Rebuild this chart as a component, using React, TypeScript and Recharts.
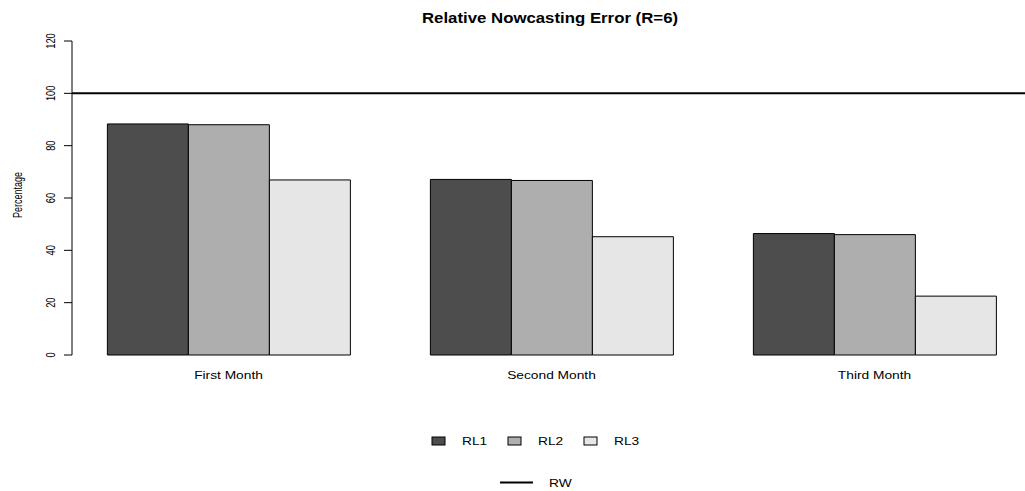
import React from 'react';
import { BarChart, Bar, XAxis, YAxis, ReferenceLine } from 'recharts';

const months = ['First Month', 'Second Month', 'Third Month'];
const rl1 = [88.3, 67.1, 46.4];
const rl2 = [88.0, 66.7, 46.0];
const rl3 = [66.9, 45.2, 22.5];
const yTicks = [0, 20, 40, 60, 80, 100, 120];
const rwLevel = 100;

const seriesNames = ['RL1', 'RL2', 'RL3'];
const seriesColors = ['#4d4d4d', '#aeaeae', '#e6e6e6'];

const FONT = '"Liberation Sans", Arial, sans-serif';

const data = months.map((m, i) => ({ month: m, RL1: rl1[i], RL2: rl2[i], RL3: rl3[i] }));

// rotated y tick labels, like R's default las=0
const YTick = (props: any) => {
  const { x, y, payload } = props;
  return (
    <g transform={`translate(${x - 7},${y}) scale(1.15,0.85)`}>
      <text transform="rotate(-90)" textAnchor="middle" fontSize={11} fontFamily={FONT} fill="#000">
        {payload.value}
      </text>
    </g>
  );
};

const XTick = (props: any) => {
  const { x, y, payload } = props;
  return (
    <g transform={`translate(${x},${y + 16}) scale(1.25,1)`}>
      <text textAnchor="middle" fontSize={11} fontFamily={FONT} fill="#000">
        {payload.value}
      </text>
    </g>
  );
};

const App: React.FC = () => {
  return (
    <div style={{ position: 'absolute', left: 0, top: 0, width: 1025, height: 491, overflow: 'hidden', background: '#fff' }}>
      <BarChart
        width={1036}
        height={491}
        data={data}
        margin={{ top: 41, right: 0, left: 0, bottom: 106 }}
        barCategoryGap="12.5%"
        barGap={0}
      >
        <XAxis
          dataKey="month"
          axisLine={false}
          tickLine={false}
          height={30}
          padding={{ left: -5, right: 0 }}
          tick={<XTick />}
          interval={0}
        />
        <YAxis
          width={72}
          domain={[0, 120]}
          ticks={yTicks}
          stroke="#000"
          tickSize={8}
          tickMargin={2}
          tick={<YTick />}
          interval={0}
        />
        {seriesNames.map((name, i) => (
          <Bar key={name} dataKey={name} fill={seriesColors[i]} stroke="#000" strokeWidth={1} isAnimationActive={false} />
        ))}
        <ReferenceLine y={rwLevel} stroke="#000" strokeWidth={2} />
      </BarChart>
      <svg width={1025} height={491} style={{ position: 'absolute', left: 0, top: 0, pointerEvents: 'none' }}>
        <g transform="translate(550,23) scale(1.2,1)">
          <text textAnchor="middle" fontSize={14} fontWeight="bold" fontFamily={FONT} fill="#000">
            Relative Nowcasting Error (R=6)
          </text>
        </g>
        <g transform="translate(22,195) scale(1.1,0.82)">
          <text transform="rotate(-90)" textAnchor="middle" fontSize={11} fontFamily={FONT} fill="#000">
            Percentage
          </text>
        </g>
        {seriesNames.map((name, i) => {
          const x0 = 432 + i * 76;
          return (
            <g key={name}>
              <rect x={x0} y={437} width={13} height={8} fill={seriesColors[i]} stroke="#000" strokeWidth={1} />
              <g transform={`translate(${x0 + 30},${445}) scale(1.25,1)`}>
                <text fontSize={11} fontFamily={FONT} fill="#000">{name}</text>
              </g>
            </g>
          );
        })}
        <line x1={500} x2={533} y1={482.5} y2={482.5} stroke="#000" strokeWidth={2} />
        <g transform="translate(549,487) scale(1.25,1)">
          <text fontSize={11} fontFamily={FONT} fill="#000">RW</text>
        </g>
      </svg>
    </div>
  );
};

export default App;
